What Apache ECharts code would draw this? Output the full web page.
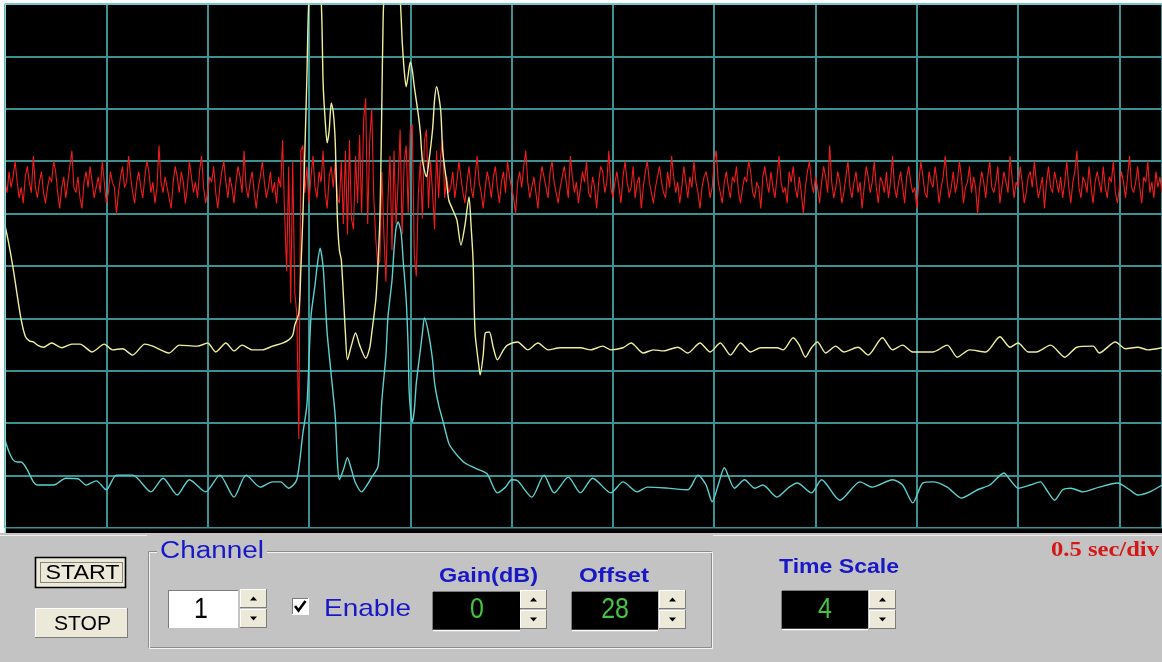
<!DOCTYPE html>
<html>
<head>
<meta charset="utf-8">
<script src="https://cdn.jsdelivr.net/npm/echarts@6/dist/echarts.min.js"></script>
<style>
  html, body { margin: 0; padding: 0; background: #ffffff; }
  #scope { width: 1162px; height: 662px; }
</style>
</head>
<body>
<div id="scope"></div>
<script>
// ---- Trace data (x in seconds, y in tenths of a screen division) ----

// Channel 1 (red) is sampled at a fixed period
const RED_DT = 0.01;
const redValues = [
  66,64,68,65,67,70,66,63,65,62,67,69,66,64,71,65,63,66,68,64,
  62,65,67,66,70,68,64,61,65,67,63,66,69,72,65,64,67,63,61,66,
  68,65,69,66,63,65,67,64,70,66,62,64,68,66,65,60,64,67,69,65,
  66,71,67,64,62,66,68,65,63,67,70,68,64,66,62,65,73,66,64,67,
  65,63,61,66,69,67,64,68,66,62,65,70,67,64,66,63,68,71,65,62,
  64,67,66,69,64,61,65,68,70,66,63,67,65,62,66,69,67,64,72,65,
  63,66,68,64,61,65,67,70,66,63,65,68,64,66,62,67,65,
  74,60,49,69,43,70,45,41,17,72,73,
  64,69,62,67,71,65,63,68,66,72,64,61,67,69,65,70,63,
  62,70,58,72,56,74,59,57,71,62,75,60,78,82,58,74,80,63,55,50,
  51,68,56,47,63,71,53,72,58,66,76,56,70,73,60,76,77,52,48,64,
  70,59,74,76,61,70,64,57,72,63,71,74,63,67,64,
  65,68,63,66,70,67,64,62,66,69,65,63,67,71,66,64,61,65,68,66,
  63,67,69,65,62,66,68,64,70,67,65,63,60,66,68,65,69,72,66,63,
  65,67,64,61,66,69,67,65,63,68,70,66,64,62,65,67,69,66,63,71,
  67,64,66,62,65,68,66,70,64,63,67,65,61,66,69,68,64,66,72,65,
  63,66,68,65,62,67,70,66,64,65,69,63,66,67,61,65,68,70,66,64,
  62,65,67,69,66,64,63,68,65,71,67,64,66,62,65,69,66,63,67,65,
  70,66,64,61,65,67,68,66,63,65,70,72,66,64,62,66,68,65,63,67,
  66,69,64,62,65,67,66,70,68,64,63,66,65,61,67,69,66,64,68,65,
  63,67,71,66,64,65,62,68,66,69,65,63,67,64,60,65,68,70,66,64,
  67,65,62,66,69,67,64,73,66,63,65,68,66,62,64,67,70,65,63,66,
  68,64,66,61,65,69,67,64,66,70,65,62,67,66,64,68,63,66,71,65,
  63,66,68,65,62,67,69,66,64,65,61,66,70,67,64,63,68,66,65,69,
  66,62,65,67,71,66,63,65,68,64,66,70,67,62,65,66,69,64,67,65,
  60,65,68,66,63,67,70,65,64,66,69,62,65,68,66,64,71,67,63,66,
  65,69,66,62,64,67,68,65,70,66,63,65,67,61,66,69,65,64,68,66,
  64,67,63,66,70,65,62,66,68,72,65,63,67,66,64,69,65,62,66,68,
  66,64,69,65,63,67,66,70,64,62,65,68,66,63,67,71,65,64,66,69,
  65,62,67,66,70,64,66,63,68,65,67,64
];

// Channel 2 (yellow): [time, value]
const yellowPoints = [
  [0,57.8],[0.02,54.0],[0.04,49.6],[0.06,44.5],[0.08,39.7],[0.10,36.6],[0.12,35.7],[0.14,35.5],
  [0.16,34.9],[0.19,34.5],[0.23,35.3],[0.28,34.4],[0.33,35.1],[0.37,35.1],[0.43,33.6],[0.49,35.1],
  [0.53,34.0],[0.58,34.2],[0.63,33.0],[0.69,35.1],[0.73,34.7],[0.81,33.4],[0.86,34.9],[0.95,34.7],
  [1.00,35.3],[1.04,33.6],[1.09,35.3],[1.13,33.8],[1.17,34.9],[1.22,34.0],[1.27,34.0],[1.32,34.7],
  [1.37,35.3],[1.40,35.9],[1.42,36.8],[1.43,38.7],[1.45,41.0],[1.46,49.2],[1.47,59.4],[1.48,72.1],
  [1.49,86.1],[1.50,101],[1.53,112],[1.56,101],[1.57,84.9],[1.58,77.9],[1.59,73.5],[1.60,75.9],
  [1.61,81.1],[1.62,79.4],[1.63,73.5],[1.64,59.4],[1.65,53.1],[1.66,51.1],[1.68,37.2],[1.69,32.1],
  [1.71,34.9],[1.73,37.2],[1.75,34.9],[1.78,32.4],[1.80,34.4],[1.81,37.2],[1.83,43.5],[1.84,49.8],
  [1.85,58.8],[1.855,68.9],[1.86,81.7],[1.865,94.5],[1.87,101],[1.91,115],[1.95,101],[1.96,93.1],
  [1.97,87.4],[1.98,84.2],[1.99,86.5],[2.00,88.9],[2.01,87.4],[2.02,84.2],[2.04,78.8],[2.05,75.4],
  [2.06,70.2],[2.08,67.0],[2.09,69.3],[2.11,76.0],[2.12,81.7],[2.13,84.2],[2.15,79.8],[2.16,72.1],
  [2.18,65.8],[2.19,62.6],[2.21,60.7],[2.23,58.8],[2.25,54.0],[2.27,57.8],[2.29,63.2],[2.30,57.8],
  [2.31,51.1],[2.32,37.2],[2.34,30.5],[2.345,29.2],[2.36,33.0],[2.37,37.2],[2.39,37.4],[2.41,34.4],
  [2.43,32.1],[2.46,34.0],[2.48,34.9],[2.53,35.5],[2.58,34.0],[2.63,35.3],[2.68,34.0],[2.74,34.4],
  [2.84,34.4],[2.89,34.0],[2.95,34.7],[2.99,34.0],[3.05,34.4],[3.09,35.3],[3.15,33.4],[3.20,34.0],
  [3.25,33.8],[3.32,34.5],[3.37,33.4],[3.43,35.3],[3.48,33.6],[3.53,35.3],[3.58,33.0],[3.63,35.3],
  [3.68,33.6],[3.73,34.4],[3.81,34.4],[3.84,34.0],[3.89,36.3],[3.92,34.9],[3.95,32.6],[3.98,34.4],
  [4.01,35.5],[4.05,33.4],[4.10,34.7],[4.14,33.6],[4.21,34.5],[4.26,33.0],[4.33,36.3],[4.38,34.0],
  [4.43,34.9],[4.48,33.6],[4.58,33.6],[4.65,34.9],[4.70,32.6],[4.76,34.0],[4.84,33.6],[4.91,36.5],
  [4.96,34.5],[5.00,35.3],[5.05,33.6],[5.09,33.6],[5.16,34.9],[5.23,32.6],[5.29,34.5],[5.37,34.7],
  [5.40,33.4],[5.48,35.5],[5.53,34.2],[5.59,34.5],[5.64,34.0],[5.71,34.4]
];

// Channel 3 (cyan): [time, value]
const cyanPoints = [
  [0,16.8],[0.02,14.5],[0.04,13.0],[0.06,12.6],[0.08,12.6],[0.11,11.1],[0.14,8.8],[0.16,8.2],
  [0.19,8.2],[0.24,8.2],[0.30,9.5],[0.36,9.4],[0.40,8.2],[0.45,9.0],[0.50,7.3],[0.55,10.1],
  [0.63,10.1],[0.72,6.9],[0.78,9.5],[0.85,6.3],[0.91,9.2],[0.99,6.9],[1.06,10.1],[1.13,5.9],
  [1.19,10.1],[1.26,7.8],[1.32,8.8],[1.36,8.8],[1.40,7.6],[1.44,9.2],[1.47,18.1],[1.49,23.5],
  [1.51,40.3],[1.53,46.4],[1.54,49.8],[1.555,53.4],[1.57,49.8],[1.58,43.5],[1.59,37.2],[1.61,29.2],
  [1.63,21.2],[1.64,13.0],[1.65,9.2],[1.67,11.1],[1.69,13.4],[1.71,11.1],[1.73,8.6],[1.76,6.9],
  [1.79,8.4],[1.81,9.7],[1.84,11.6],[1.85,16.8],[1.86,24.4],[1.88,33.0],[1.89,40.3],[1.91,47.3],
  [1.92,53.1],[1.93,57.3],[1.94,58.4],[1.955,56.3],[1.965,51.1],[1.98,43.5],[1.99,34.0],[1.995,25.8],
  [2.01,20.2],[2.02,22.5],[2.03,27.7],[2.05,34.0],[2.06,37.2],[2.07,40.1],[2.09,37.2],[2.11,32.1],
  [2.12,27.7],[2.14,23.5],[2.16,20.6],[2.19,16.2],[2.21,14.9],[2.24,13.5],[2.27,12.4],[2.31,11.6],
  [2.34,11.1],[2.38,10.3],[2.43,6.7],[2.47,7.8],[2.50,9.2],[2.53,9.0],[2.60,5.9],[2.66,10.1],
  [2.71,6.7],[2.78,9.7],[2.84,6.7],[2.90,9.5],[2.99,6.7],[3.05,8.8],[3.12,6.9],[3.17,7.8],
  [3.27,7.6],[3.37,7.3],[3.42,10.1],[3.46,8.2],[3.49,5.0],[3.52,8.2],[3.55,11.5],[3.60,7.6],
  [3.65,9.2],[3.70,7.6],[3.74,8.2],[3.81,5.9],[3.87,7.8],[3.91,8.6],[3.98,6.7],[4.03,9.2],
  [4.12,5.3],[4.22,8.8],[4.28,7.8],[4.38,9.2],[4.43,8.2],[4.48,4.8],[4.53,8.6],[4.58,8.8],
  [4.65,7.8],[4.72,5.7],[4.80,7.3],[4.86,8.2],[4.93,10.5],[4.96,9.2],[5.00,7.6],[5.06,8.2],
  [5.11,8.8],[5.14,7.3],[5.18,5.3],[5.22,7.3],[5.26,7.6],[5.32,6.9],[5.40,7.8],[5.49,8.6],
  [5.55,7.3],[5.59,6.3],[5.65,6.9],[5.71,8.2]
];

// ---- Control panel readouts ----
const channelNumber = '1';
const gainValue = '0';
const offsetValue = '28';
const timeScaleValue = '4';
const timeBaseText = '0.5 sec/div';

// ---- Screen geometry ----
const SCREEN = { left: 5, top: 4, width: 1157, height: 524 };
const X_MAX = 5.71;          // visible sweep, seconds
const GRID_COLOR = '#3a9292';
const PANEL = '#c3c3c3';
const FACE = '#ece9d8';
const SHADOW = '#7c7c7c';
const BLUE = '#1818c6';
const GREEN = '#42c442';
const SANS = '"Liberation Sans", Arial, sans-serif';

const measureCtx = document.createElement('canvas').getContext('2d');
function label(str, font, x, y, opts) {
  opts = opts || {};
  const align = opts.align || 'left';
  let sx = opts.scaleX || 1;
  if (opts.width) {
    measureCtx.font = font;
    sx = opts.width / measureCtx.measureText(str).width;
  }
  return {
    type: 'text', x: x, y: y, scaleX: sx, scaleY: opts.scaleY || 1, z: 30, silent: true,
    style: {
      text: str, font: font, fill: opts.fill || '#000',
      textAlign: align, align: align,
      textVerticalAlign: 'middle', verticalAlign: 'middle'
    }
  };
}
function rect(x, y, w, h, fill, z, stroke, lw, dash) {
  return {
    type: 'rect', z: z || 10, silent: true,
    shape: { x: x, y: y, width: w, height: h },
    style: { fill: fill || null, stroke: stroke || null, lineWidth: lw || 1, lineDash: dash || null }
  };
}
function seg(x1, y1, x2, y2, color, lw, z) {
  return {
    type: 'line', z: z || 12, silent: true,
    shape: { x1: x1, y1: y1, x2: x2, y2: y2 },
    style: { stroke: color, lineWidth: lw || 1 }
  };
}
// 3D edge: raised = light top/left, dark bottom/right; sunken is the reverse
function bevel(x, y, w, h, raised, z) {
  const a = raised ? '#ffffff' : SHADOW;
  const b = raised ? SHADOW : '#ffffff';
  return [
    seg(x, y + 0.5, x + w, y + 0.5, a, 1, z),
    seg(x + 0.5, y, x + 0.5, y + h, a, 1, z),
    seg(x, y + h - 0.5, x + w, y + h - 0.5, b, 1, z),
    seg(x + w - 0.5, y, x + w - 0.5, y + h, b, 1, z)
  ];
}
function spinner(x, y, w, h) {
  const els = [];
  const half = h / 2;
  for (let k = 0; k < 2; k++) {
    const yy = y + k * half;
    els.push(rect(x, yy, w, half - 1, FACE, 14));
    els.push.apply(els, bevel(x, yy, w, half - 1, true, 15));
    const cx = x + w / 2, cy = yy + (half - 1) / 2;
    const pts = k === 0
      ? [[cx - 3.5, cy + 2], [cx + 3.5, cy + 2], [cx, cy - 2]]
      : [[cx - 3.5, cy - 2], [cx + 3.5, cy - 2], [cx, cy + 2]];
    els.push({ type: 'polygon', z: 16, silent: true, shape: { points: pts }, style: { fill: '#000' } });
  }
  return els;
}
function readout(x, y, w, h, value, cx) {
  return [
    rect(x, y, w, h, '#000', 14),
    seg(x, y + h + 0.5, x + w, y + h + 0.5, '#ffffff', 1.5, 15),
    seg(x - 0.5, y, x - 0.5, y + h, SHADOW, 1, 15),
    seg(x, y - 0.5, x + w, y - 0.5, SHADOW, 1, 15),
    label(value, '29px ' + SANS, cx, 610, { align: 'center', scaleX: 0.86, fill: GREEN })
  ];
}

const graphics = [];
// lower control panel
graphics.push(rect(0, 533, 1162, 129, PANEL, 1));
graphics.push(rect(SCREEN.left, 528.5, SCREEN.width, 4.5, '#000', 1));
graphics.push(seg(0, 535.5, 147, 535.5, '#ececec', 1.2, 2));
graphics.push(seg(713, 535.5, 1162, 535.5, '#ececec', 1.2, 2));
// screen frame
graphics.push(seg(SCREEN.left, 4, 1162, 4, '#8fd6d6', 1.5, 20));
graphics.push(seg(5.25, 4, 5.25, 533, '#8fd6d6', 1.5, 20));

// START (focused) and STOP buttons
graphics.push(rect(35, 557, 91, 31, FACE, 10));
graphics.push(rect(35.5, 557.5, 90, 30, null, 12, '#000', 1.6));
graphics.push(rect(40.5, 562.5, 82, 20, null, 12, '#222', 1, [1, 1]));
graphics.push(label('START', '21px ' + SANS, 82.5, 573, { align: 'center', width: 74 }));
graphics.push(rect(35, 608, 93, 30, FACE, 10));
graphics.push.apply(graphics, bevel(35, 608, 93, 30, true, 12));
graphics.push(label('STOP', '21px ' + SANS, 82.5, 624, { align: 'center', width: 57 }));

// Channel group box
graphics.push(rect(148.5, 551.5, 563, 96, null, 8, '#8c8c8c', 1));
graphics.push(rect(149.5, 552.5, 563, 96, null, 8, '#f4f4f4', 1));
graphics.push(rect(157, 544, 110, 14, PANEL, 9));
graphics.push(label('Channel', '23px ' + SANS, 160, 552, { width: 104, fill: BLUE }));

// channel number box
graphics.push(rect(168, 590, 70, 38, '#ffffff', 12));
graphics.push(seg(168, 590.5, 238, 590.5, SHADOW, 1, 13));
graphics.push(seg(168.5, 590, 168.5, 628, SHADOW, 1, 13));
graphics.push(label(channelNumber, '29px ' + SANS, 201, 610, { align: 'center', scaleX: 0.86 }));
graphics.push.apply(graphics, spinner(240, 589, 27, 40));

// Enable checkbox
graphics.push(rect(292, 598, 17, 17, '#ffffff', 12));
graphics.push.apply(graphics, bevel(292, 598, 17, 17, false, 13));
graphics.push({ type: 'polyline', z: 16, silent: true,
  shape: { points: [[295, 606], [298.5, 610.5], [305.5, 601]] },
  style: { stroke: '#000', lineWidth: 2.6, fill: null } });
graphics.push(label('Enable', '24px ' + SANS, 324, 609, { width: 87, fill: BLUE }));

// Gain / Offset
graphics.push(label('Gain(dB)', 'bold 20px ' + SANS, 439, 576, { width: 99, fill: BLUE }));
graphics.push.apply(graphics, readout(433, 592, 87, 38, gainValue, 477));
graphics.push.apply(graphics, spinner(520, 590, 27, 40));
graphics.push(label('Offset', 'bold 20px ' + SANS, 579, 576, { width: 70, fill: BLUE }));
graphics.push.apply(graphics, readout(572, 592, 86, 38, offsetValue, 615));
graphics.push.apply(graphics, spinner(659, 590, 27, 40));

// Time scale
graphics.push(label('Time Scale', 'bold 20px ' + SANS, 779, 567, { width: 120, fill: BLUE }));
graphics.push.apply(graphics, readout(782, 591, 86, 38, timeScaleValue, 825));
graphics.push.apply(graphics, spinner(869, 590, 27, 40));
graphics.push(label(timeBaseText, 'bold 22px "Liberation Serif", "Times New Roman", serif', 1051, 550,
  { width: 108, fill: '#d41818' }));

const hiddenAxis = {
  type: 'value',
  axisLine: { show: false }, axisTick: { show: false }, axisLabel: { show: false },
  splitLine: { show: true, lineStyle: { color: GRID_COLOR, width: 2 } }
};

const chart = echarts.init(document.getElementById('scope'), null, { renderer: 'canvas' });
chart.setOption({
  animation: false,
  backgroundColor: '#ffffff',
  grid: {
    left: SCREEN.left, top: SCREEN.top, width: SCREEN.width, height: SCREEN.height,
    show: true, backgroundColor: '#000000', borderWidth: 0
  },
  xAxis: Object.assign({}, hiddenAxis, { min: 0, max: X_MAX, interval: 0.5 }),
  yAxis: Object.assign({}, hiddenAxis, { min: 0, max: 100, interval: 10 }),
  series: [
    {
      name: 'CH1', type: 'line', z: 3, silent: true, showSymbol: false,
      data: redValues.map((v, i) => [i * RED_DT, v]),
      lineStyle: { color: '#f01c1c', width: 1.1 }
    },
    {
      name: 'CH2', type: 'line', z: 4, silent: true, showSymbol: false, smooth: 0.25,
      data: yellowPoints,
      lineStyle: { color: '#eeee9c', width: 1.4 }
    },
    {
      name: 'CH3', type: 'line', z: 5, silent: true, showSymbol: false, smooth: 0.25,
      data: cyanPoints,
      lineStyle: { color: '#5ccfcf', width: 1.4 }
    }
  ],
  graphic: { elements: graphics }
});
</script>
</body>
</html>
